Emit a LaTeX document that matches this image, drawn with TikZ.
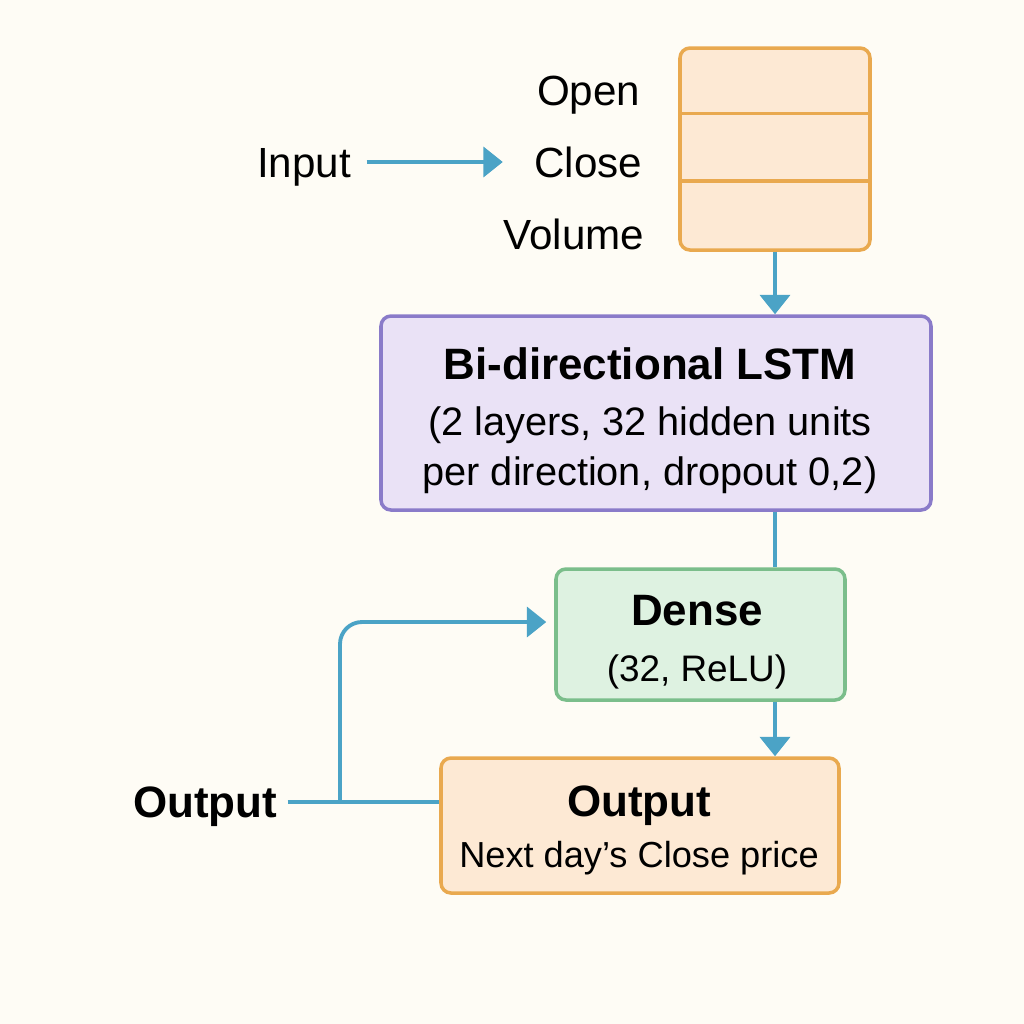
\documentclass[tikz,border=0pt]{standalone}
\usepackage{fontspec}
\setmainfont{Liberation Sans}
\usepackage{xcolor}
\usetikzlibrary{arrows.meta}

\definecolor{bgcream}{HTML}{FEFCF5}
\definecolor{flowblue}{HTML}{4BA3C6}
\definecolor{stackline}{HTML}{E9A94F}
\definecolor{stackfill}{HTML}{FDE9D4}
\definecolor{lstmline}{HTML}{8A7BC9}
\definecolor{lstmfill}{HTML}{EAE2F6}
\definecolor{denseline}{HTML}{7BBE8B}
\definecolor{densefill}{HTML}{DEF2E1}

\begin{document}
\begin{tikzpicture}[
        box/.style={draw, line width=1pt, rounded corners=0.1cm, inner sep=0pt},
        boxtext/.style={inner sep=0pt, align=center},
        txt/.style={inner sep=0pt, text height=8.6pt, text depth=0pt, font=\fontsize{12}{14}\selectfont},
        link/.style={draw=flowblue, line width=1.1pt},
        flow/.style={link, -{Triangle[length=5.5pt, width=8.5pt]}},
    ]
        % Sizes
        \pgfmathsetmacro{\cellh}{0.673}
        \fill[bgcream] (0,0) rectangle (10.24,-10.24);
        \useasboundingbox (0,0) rectangle (10.24,-10.24);

        % boxes
        \node[box, draw=stackline, fill=stackfill, minimum width=1.9cm, minimum height=2.02cm] (stack) at (7.75,-1.49) {};
        \node[box, draw=lstmline, fill=lstmfill, minimum width=5.5cm, minimum height=1.94cm] (lstm) at (6.56,-4.13) {};
        \node[box, draw=denseline, fill=densefill, minimum width=2.89cm, minimum height=1.31cm] (dense) at (7.005,-6.345) {};
        \node[box, draw=stackline, fill=stackfill, minimum width=3.98cm, minimum height=1.35cm] (out) at (6.40,-8.255) {};
        \draw[stackline, line width=1pt] ([yshift=-\cellh cm]stack.north west) -- ([yshift=-\cellh cm]stack.north east);
        \draw[stackline, line width=1pt] ([yshift=-2*\cellh cm]stack.north west) -- ([yshift=-2*\cellh cm]stack.north east);

        % labels
        \node[txt, anchor=east] (open) at (6.41,-0.90) {Open};
        \node[txt, anchor=east] (close) at (6.43,-1.62) {Close};
        \node[txt, anchor=east] (volume) at (6.45,-2.34) {Volume};
        \node[txt] (input) at (3.04,-1.62) {Input};
        \node[txt, font=\fontsize{12.5}{14}\selectfont\bfseries] (outlbl) at (2.05,-8.02) {Output};
        \node[boxtext, font=\fontsize{11.3}{14.2}\selectfont] (lstmtext) at (6.50,-4.21)
            {{\fontsize{12.5}{14.2}\selectfont\bfseries Bi-directional LSTM}\\[1.7pt](2 layers, 32 hidden units\\per direction, dropout 0,2)};
        \node[boxtext, font=\fontsize{10.5}{14.2}\selectfont] (densetext) at (6.97,-6.425)
            {{\fontsize{12.5}{14.2}\selectfont\bfseries Dense}\\[1.7pt](32, ReLU)};
        \node[boxtext, font=\fontsize{10.3}{14.2}\selectfont] (outtext) at (6.39,-8.30)
            {{\fontsize{12.5}{14.2}\selectfont\bfseries Output}\\[0.3pt]Next day’s Close price};

        % draw diagram
        \coordinate (split) at (3.40,-8.02);
        \draw[flow, shorten <=0.15cm, shorten >=0.31cm] (input.east) -- (close.west);
        \draw[flow] (stack.south) -- (stack.south |- lstm.north);
        \draw[link] (stack.south |- lstm.south) -- (stack.south |- dense.north);
        \draw[flow] (stack.south |- dense.south) -- (stack.south |- out.north);
        \draw[link, shorten <=0.1cm] (outlbl.east) -- (outlbl.east -| out.west);
        \draw[flow, rounded corners=0.22cm] (split) |- ([xshift=-0.08cm, yshift=0.125cm]dense.west);
\end{tikzpicture}
\end{document}
